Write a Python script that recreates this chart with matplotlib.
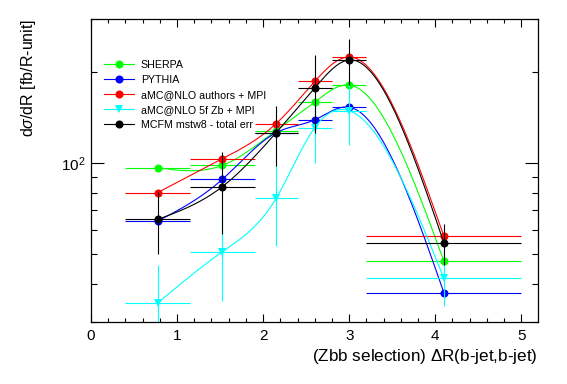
import numpy as np
import matplotlib
matplotlib.use('Agg')
import matplotlib.pyplot as plt
from matplotlib.ticker import MultipleLocator, FixedLocator, NullFormatter, FixedFormatter
from matplotlib.lines import Line2D

plt.rcParams['font.family'] = ['Liberation Sans', 'DejaVu Sans']
plt.rcParams['mathtext.fontset'] = 'custom'
plt.rcParams['mathtext.rm'] = 'Liberation Sans'
plt.rcParams['mathtext.it'] = 'Liberation Sans:italic'

# bins of Delta R(b-jet,b-jet)
bin_lo = [0.4, 1.15, 1.9, 2.4, 2.8, 3.2]
bin_hi = [1.15, 1.9, 2.4, 2.8, 3.2, 5.0]
x_pts = [0.775, 1.525, 2.15, 2.6, 3.0, 4.1]

sherpa = [96.6, 98.3, 128, 159, 181, 47.5]
pythia = [64.4, 88.4, 126, 139, 153, 37.4]
amcnlo = [80, 103.4, 135, 186, 224, 57.4]
amcnlo_5f = [34.6, 51, 76.5, 131, 149, 41.7]
amcnlo_5f_err = [11.4, 16, 23, 31, 34, 8]
mcfm = [65.2, 83.6, 126, 177, 219, 54.6]
mcfm_err = [15, 25, 28, 51, 38, 8.5]

labels = ['SHERPA', 'PYTHIA', 'aMC@NLO authors + MPI', 'aMC@NLO 5f Zb + MPI', 'MCFM mstw8 - total err']
colors = ['#00ff00', '#0000ff', '#ff0000', '#00ffff', '#000000']
markers = ['o', 'o', 'o', 'v', 'o']


def smooth(x, y, n=200):
    # natural cubic spline in (x, log y), like ROOT's "C" option on a log axis
    x = np.asarray(x, float)
    ly = np.log10(np.asarray(y, float))
    k = len(x)
    h = np.diff(x)
    A = np.zeros((k, k))
    b = np.zeros(k)
    A[0, 0] = A[-1, -1] = 1
    for i in range(1, k - 1):
        A[i, i - 1] = h[i - 1]
        A[i, i] = 2 * (h[i - 1] + h[i])
        A[i, i + 1] = h[i]
        b[i] = 6 * ((ly[i + 1] - ly[i]) / h[i] - (ly[i] - ly[i - 1]) / h[i - 1])
    M = np.linalg.solve(A, b)
    xs = np.linspace(x[0], x[-1], n)
    j = np.clip(np.searchsorted(x, xs) - 1, 0, k - 2)
    t0 = x[j + 1] - xs
    t1 = xs - x[j]
    hj = h[j]
    ys = (M[j] * t0**3 + M[j + 1] * t1**3) / (6 * hj) \
        + (ly[j] / hj - M[j] * hj / 6) * t0 + (ly[j + 1] / hj - M[j + 1] * hj / 6) * t1
    return xs, 10**ys


fig = plt.figure(figsize=(5.67, 3.84), dpi=100)
ax = fig.add_axes([91 / 567, 1 - 321.7 / 384, (537.7 - 91) / 567, (321.7 - 18.5) / 384])
ax.set_yscale('log')

xc = np.array(x_pts)
xerr = [xc - np.array(bin_lo), np.array(bin_hi) - xc]
series = [sherpa, pythia, amcnlo, amcnlo_5f, mcfm]
yerrs = [None, None, None, amcnlo_5f_err, mcfm_err]

handles = []
for vals, err, col, mk, lab in zip(series, yerrs, colors, markers, labels):
    ax.errorbar(x_pts, vals, xerr=xerr, yerr=err, fmt='none', ecolor=col, elinewidth=0.8, capsize=0)
    xs, ys = smooth(x_pts, vals)
    ax.plot(xs, ys, color=col, lw=0.8)
    ax.plot(x_pts, vals, ls='none', marker=mk, color=col, markersize=5.8, markeredgewidth=0)
    handles.append(Line2D([], [], color=col, lw=0.8, marker=mk, markersize=5.8, markeredgewidth=0, label=lab))

ax.set_xlim(0, 5.19)
ax.set_ylim(30, 300)

ax.xaxis.set_major_locator(MultipleLocator(1))
ax.xaxis.set_minor_locator(MultipleLocator(0.2))
ax.yaxis.set_major_locator(FixedLocator([100]))
ax.yaxis.set_major_formatter(FixedFormatter(['$10^2$']))
ax.yaxis.set_minor_locator(FixedLocator([30, 40, 50, 60, 70, 80, 90, 200, 300]))
ax.yaxis.set_minor_formatter(NullFormatter())

ax.tick_params(which='both', direction='in', top=True, right=True, width=0.8, labelsize=11, colors='black')
ax.tick_params(axis='x', which='major', length=6, pad=5)
ax.tick_params(axis='x', which='minor', length=3)
ax.tick_params(axis='y', which='major', length=9.5, pad=4)
ax.tick_params(axis='y', which='minor', length=4.5)
for s in ax.spines.values():
    s.set_linewidth(0.9)

fig.text(537.7 / 567, 1 - 357 / 384, '(Zbb selection) $\\Delta$R(b-jet,b-jet)', ha='right', va='center', fontsize=12.3)
fig.text(28 / 567, 1 - 18.5 / 384, 'd$\\sigma$/dR [fb/R-unit]', rotation=90, ha='center', va='top', fontsize=11.5)

ax.legend(handles=handles, loc='upper left', bbox_to_anchor=(104 / 567, 1 - 60 / 384),
          bbox_transform=fig.transFigure, frameon=False, fontsize=7.7, handlelength=2.8,
          handletextpad=0.63, labelspacing=0.47, borderpad=0, borderaxespad=0, numpoints=1)

fig.savefig('out.png', dpi=100)
